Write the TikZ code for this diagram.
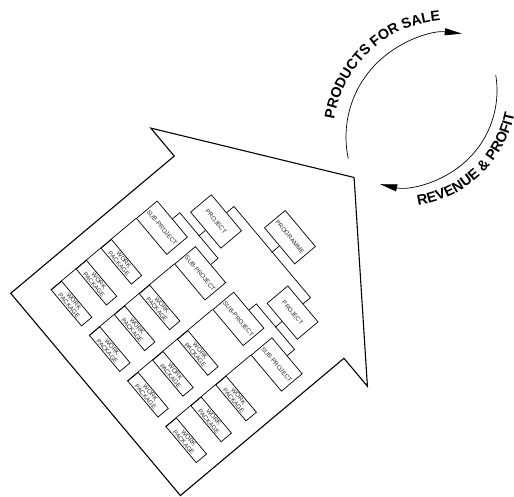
\documentclass[tikz,border=0pt]{standalone}
\usepackage{fontspec}
\setmainfont{Liberation Sans}
\usetikzlibrary{arrows.meta,positioning,calc,decorations.text}
\tikzset{
  every picture/.style={x=1pt,y=1pt},
  housewall/.style={draw,line width=1.1pt,line join=miter},
  orgbox/.style={draw,line width=0.7pt,minimum width=47pt,minimum height=27pt,inner sep=0pt,
    font=\fontsize{6.2}{6.5}\selectfont,text=black!85,transform shape},
  wpbox/.style={orgbox,minimum height=13.5pt,align=center},
  orgline/.style={line width=0.7pt},
  cyclearrow/.style={line width=0.7pt,-{Triangle[length=17pt,width=7pt]}},
}

\begin{document}
\begin{tikzpicture}
  \useasboundingbox (0,0) rectangle (514,497);
  \begin{scope}[shift={(10.7,203.7)},rotate=-50]
    \draw[housewall] (0,0) -- (264,0) -- (264,213.5) -- (300.5,213.5) -- (132,337.5)
      -- (-36.5,213.5) -- (0,213.5) -- cycle;
    \node[orgbox] (prog) at (136.5,250) {PROGRAMME};
    \node[orgbox] (proj1) at (77,203.5) {PROJECT};
    \node[orgbox] (proj2) at (196,203.5) {PROJECT};
    \foreach \i/\u in {1/47,2/106.5,3/166,4/225.5} {
      \node[orgbox] (sp\i) at (\u,158) {SUB-PROJECT};
      \foreach \j/\v in {1/105,2/72.5,3/40}
        \node[wpbox] (wp\i\j) at (\u,\v) {WORK\\PACKAGE};
      \draw[orgline] (sp\i.south west) -- (wp\i3.south west);
    }
    \draw[orgline] (prog.south) -- ++(0,-10);
    \draw[orgline] (proj1.north) -- ++(0,9.5) -- ++(119,0) -- (proj2.north);
    \draw[orgline] (proj1.south) -- ++(0,-9);
    \draw[orgline] (proj2.south) -- ++(0,-9);
    \draw[orgline] (sp1.north) -- ++(0,9.5) -- ++(59.5,0) -- (sp2.north);
    \draw[orgline] (sp3.north) -- ++(0,9.5) -- ++(59.5,0) -- (sp4.north);
  \end{scope}
  \coordinate (salecentre) at (450,360);
  \coordinate (profitcentre) at (401,406.5);
  \draw[cyclearrow] ($(salecentre)+(192:104)$) arc[start angle=192,end angle=83.5,radius=104];
  \path[decorate,decoration={text along path,text align=center,
      text={|\bfseries\fontsize{14.3}{16}\selectfont|PRODUCTS FOR SALE}}]
    ($(salecentre)+(178:117)$) arc[start angle=178,end angle=88,radius=117];
  \draw[cyclearrow] ($(profitcentre)+(9.2:96)$) arc[start angle=9.2,end angle=-102.5,radius=96];
  \path[decorate,decoration={text along path,text align=center,
      text={|\bfseries\fontsize{14.5}{16}\selectfont|REVENUE {\&} PROFIT}}]
    ($(profitcentre)+(-92:116)$) arc[start angle=-92,end angle=-1,radius=116];
\end{tikzpicture}
\end{document}
